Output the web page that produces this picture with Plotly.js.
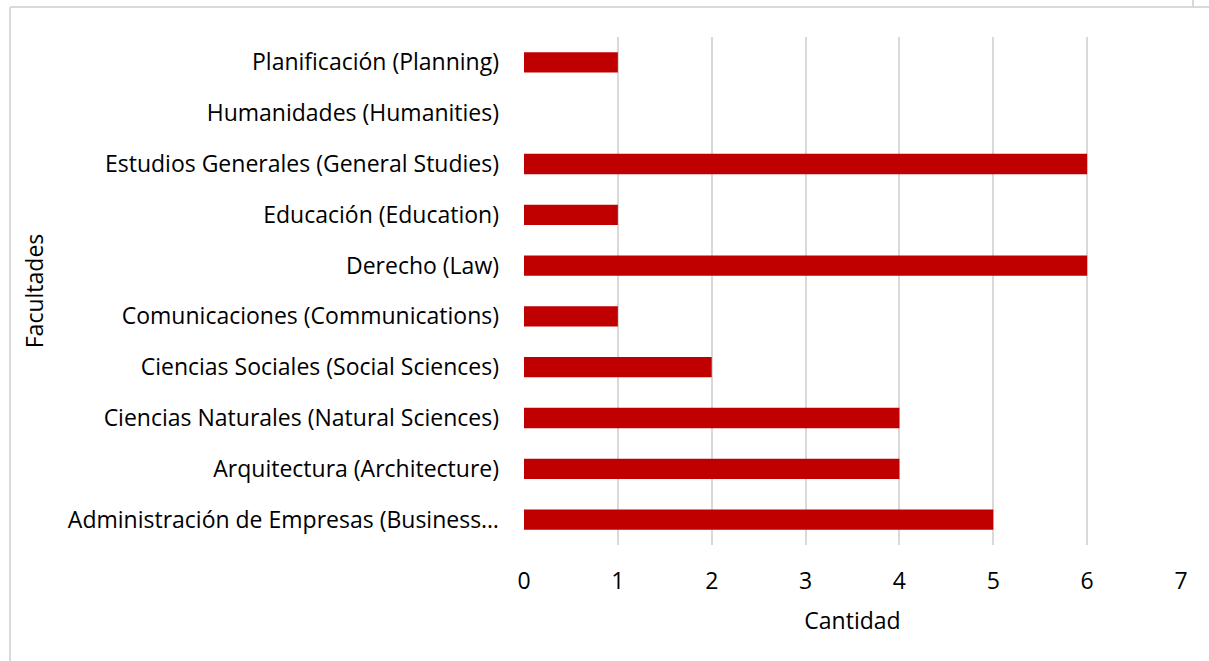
<!DOCTYPE html>
<html>
<head>
<meta charset="utf-8">
<script src="https://cdn.plot.ly/plotly-3.0.1.min.js"></script>
<style>html,body{margin:0;padding:0;background:#fff;}#chart{width:1209px;height:661px;}</style>
</head>
<body>
<div id="chart"></div>
<script>
const categories = [
  "Administración de Empresas (Business…",
  "Arquitectura (Architecture)",
  "Ciencias Naturales (Natural Sciences)",
  "Ciencias Sociales (Social Sciences)",
  "Comunicaciones (Communications)",
  "Derecho (Law)",
  "Educación (Education)",
  "Estudios Generales (General Studies)",
  "Humanidades (Humanities)",
  "Planificación (Planning)"
];
const values = [5, 4, 4, 2, 1, 6, 1, 6, 0, 1];
const xTicks = [0, 1, 2, 3, 4, 5, 6, 7];

const FONT = "'Open Sans', sans-serif";
const FS = 23;
const W = 1209, H = 661, ML = 524, MR = 28, MT = 37, MB = 116;
const PW = W - ML - MR, PH = H - MT - MB;
const px = v => (v - ML) / PW;
const py = v => 1 - (v - MT) / PH;

Plotly.newPlot('chart', [{
  type: 'bar',
  orientation: 'h',
  y: categories,
  x: values,
  marker: {color: '#C00000'},
  hoverinfo: 'x+y'
}], {
  width: W, height: H,
  paper_bgcolor: '#ffffff', plot_bgcolor: '#ffffff',
  margin: {l: ML, r: MR, t: MT, b: MB},
  bargap: 0.6,
  showlegend: false,
  font: {family: FONT, size: FS, color: '#000000'},
  xaxis: {
    range: [0, 7],
    tickvals: xTicks,
    ticktext: xTicks.map(String),
    showgrid: true, gridcolor: '#d9d9d9', gridwidth: 1.5,
    zeroline: false, showline: false,
    ticks: '', ticklabelstandoff: 20,
    tickfont: {family: FONT, size: FS, color: '#000'},
    title: {text: 'Cantidad', font: {family: FONT, size: FS, color: '#000'}, standoff: 17},
    fixedrange: true
  },
  yaxis: {
    type: 'category',
    categoryorder: 'array', categoryarray: categories,
    showgrid: false, zeroline: false, showline: false,
    ticks: '', ticklabelstandoff: 24,
    tickfont: {family: FONT, size: FS, color: '#000'},
    title: {text: 'Facultades', font: {family: FONT, size: FS, color: '#000'}, standoff: 17},
    automargin: false,
    fixedrange: true
  },
  shapes: [
    {type: 'line', xref: 'paper', yref: 'paper', x0: px(10), x1: px(10), y0: py(7), y1: py(670), line: {color: '#d9d9d9', width: 2}},
    {type: 'line', xref: 'paper', yref: 'paper', x0: px(10), x1: px(1215), y0: py(7), y1: py(7), line: {color: '#d9d9d9', width: 2}},
    {type: 'line', xref: 'paper', yref: 'paper', x0: px(1193), x1: px(1193), y0: py(-5), y1: py(7), line: {color: '#d9d9d9', width: 2}}
  ]
}, {displayModeBar: false});
</script>
</body>
</html>
